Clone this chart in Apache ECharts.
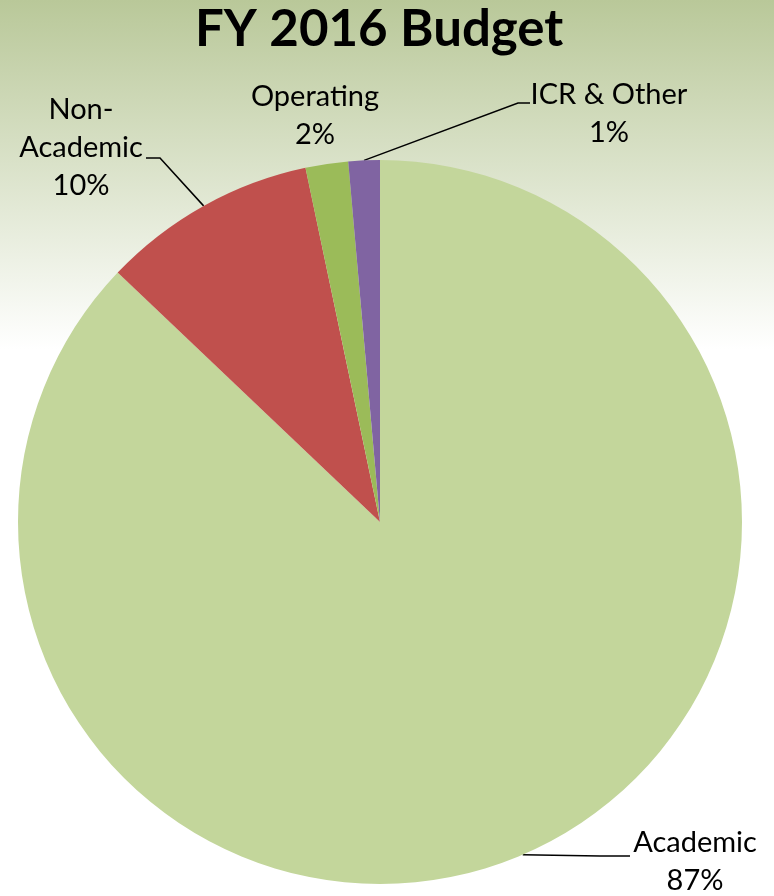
<!DOCTYPE html>
<html>
<head>
<meta charset="utf-8">
<script src="https://cdn.jsdelivr.net/npm/echarts@6/dist/echarts.min.js"></script>
<style>
  html, body { margin: 0; padding: 0; background: #fff; }
  #chart { width: 774px; height: 896px; }
</style>
</head>
<body>
<div id="chart"></div>
<script>
// ---- data ----
const titleText = 'FY 2016 Budget';
const categories = ['Academic', 'Non-Academic', 'Operating', 'ICR & Other'];
const values = [87.1, 9.6, 1.9, 1.4];

// ---- styles / layout ----
const colors = ['#C3D69B', '#C0504D', '#9BBB59', '#8064A2'];
const FONT = 'Lato, "Liberation Sans", sans-serif';
// label centre positions and leader-line bend points (label annotations, not marks)
const labelPlaces = [
  { x: 695, y: 862, bend: [[600, 856], [630, 856]] },
  { x: 81,  y: 148, bend: [[160, 158], [146, 158]] },
  { x: 315, y: 116, bend: null },
  { x: 609, y: 114, bend: [[518, 103], [530, 103]] }
];

const chart = echarts.init(document.getElementById('chart'), null, { renderer: 'canvas' });

const option = {
  animation: false,
  backgroundColor: {
    type: 'linear', x: 0, y: 0, x2: 0, y2: 1,
    colorStops: [
      { offset: 0, color: '#b9c899' },
      { offset: 0.39, color: '#ffffff' },
      { offset: 1, color: '#ffffff' }
    ]
  },
  title: {
    text: titleText,
    left: 190,
    top: -1,
    textStyle: { fontFamily: FONT, fontWeight: 'bold', fontSize: 51, color: '#000' }
  },
  series: [{
    type: 'pie',
    center: [380, 522],
    radius: 362,
    startAngle: 90,
    clockwise: true,
    avoidLabelOverlap: false,
    data: categories.map((c, i) => ({
      name: c,
      value: values[i],
      itemStyle: { color: colors[i] },
      labelLine: { show: labelPlaces[i].bend !== null }
    })),
    itemStyle: { borderWidth: 0 },
    label: {
      show: true,
      position: 'outside',
      fontFamily: FONT,
      fontSize: 29,
      lineHeight: 38,
      color: '#000',
      align: 'center',
      formatter: p => p.name.replace(/-/g, '-\n') + '\n' + Math.round(p.percent) + '%'
    },
    labelLine: {
      show: true,
      lineStyle: { color: '#000', width: 1.5 }
    },
    labelLayout: function (params) {
      const place = labelPlaces[params.dataIndex];
      const res = { x: place.x, y: place.y, align: 'center', verticalAlign: 'middle' };
      if (place.bend && params.labelLinePoints) {
        res.labelLinePoints = [params.labelLinePoints[0], place.bend[0], place.bend[1]];
      }
      return res;
    },
    emphasis: { disabled: true }
  }]
};

chart.setOption(option);
</script>
</body>
</html>
